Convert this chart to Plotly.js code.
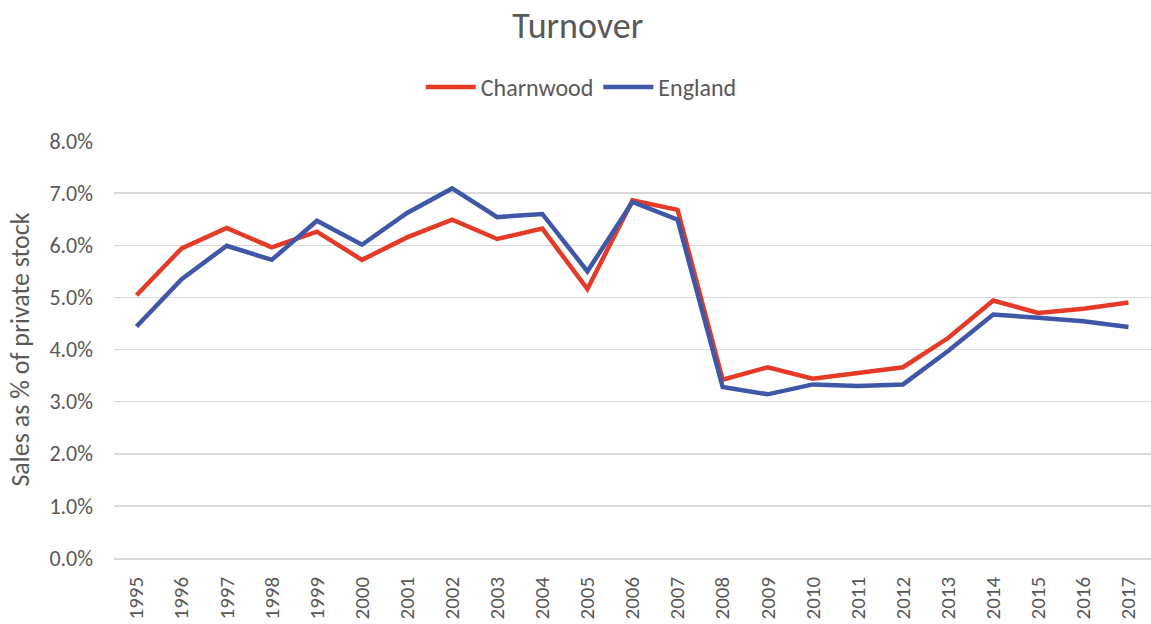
<!DOCTYPE html>
<html>
<head>
<meta charset="utf-8">
<script src="https://cdn.plot.ly/plotly-3.0.1.min.js"></script>
<style>html,body{margin:0;padding:0;background:#fff;}#chart{width:1151px;height:624px;}</style>
</head>
<body>
<div id="chart"></div>
<script>
const years = ['1995','1996','1997','1998','1999','2000','2001','2002','2003','2004','2005','2006','2007','2008','2009','2010','2011','2012','2013','2014','2015','2016','2017'];
const charnwood = [5.04,5.94,6.33,5.96,6.26,5.72,6.15,6.49,6.12,6.32,5.16,6.86,6.68,3.42,3.66,3.44,3.55,3.66,4.22,4.94,4.70,4.78,4.90];
const england   = [4.44,5.35,5.99,5.72,6.47,6.01,6.62,7.09,6.54,6.60,5.50,6.83,6.49,3.28,3.14,3.33,3.30,3.33,3.97,4.67,4.61,4.54,4.43];
const yTicks = [0,1,2,3,4,5,6,7,8];

const fontFam = 'Carlito, Calibri, "Open Sans", sans-serif';
const gray = '#595959';

const traces = [
  {x: years, y: charnwood, type: 'scatter', mode: 'lines', name: 'Charnwood',
   line: {color: '#E53A27', width: 4.5}},
  {x: years, y: england, type: 'scatter', mode: 'lines', name: 'England',
   line: {color: '#3F57A6', width: 4.5}}
];

const layout = {
  width: 1151, height: 624,
  paper_bgcolor: '#fff', plot_bgcolor: '#fff',
  margin: {l: 114, r: 0, t: 141, b: 66},
  font: {family: fontFam, color: gray},
  title: {text: 'Turnover', x: 0.502, xref: 'container', xanchor: 'center', y: 0.96, yref: 'container', yanchor: 'middle',
          font: {size: 36, color: gray, family: fontFam}},
  showlegend: true,
  legend: {orientation: 'h', x: 0.505, xref: 'container', xanchor: 'center', y: 0.86, yref: 'container', yanchor: 'middle',
           font: {size: 24, color: gray, family: fontFam}, itemwidth: 50},
  xaxis: {type: 'category', range: [-0.5, 22.5], tickangle: -90, showgrid: false,
          showline: true, linecolor: '#D9D9D9', linewidth: 1.5, ticks: '', ticklabelstandoff: 9,
          tickfont: {size: 21, color: gray, family: fontFam}, fixedrange: true},
  yaxis: {range: [0, 8], tickvals: yTicks, ticktext: yTicks.map(v => v.toFixed(1) + '%'),
          showgrid: true, gridcolor: '#D9D9D9', gridwidth: 1.5, zeroline: false, showline: false,
          tickfont: {size: 22, color: gray, family: fontFam}, ticks: '', ticklen: 0, ticklabelstandoff: 20,
          title: {text: 'Sales as % of private stock', standoff: 12, font: {size: 26, color: gray, family: fontFam}},
          automargin: false, fixedrange: true}
};

Plotly.newPlot('chart', traces, layout, {displayModeBar: false, staticPlot: true});
</script>
</body>
</html>
